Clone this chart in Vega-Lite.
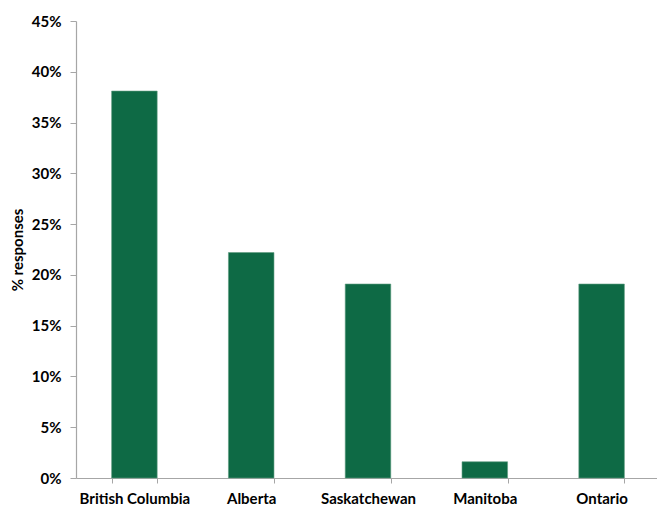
{
  "$schema": "https://vega.github.io/schema/vega-lite/v6.json",
  "width": 584,
  "height": 457,
  "autosize": {"type": "none"},
  "padding": {"left": 76, "top": 21, "right": 0, "bottom": 30},
  "background": "white",
  "config": {"view": {"stroke": null}, "font": "Lato"},
  "data": {
    "values": [
      {"province": "British Columbia", "pct": 0.381},
      {"province": "Alberta", "pct": 0.222},
      {"province": "Saskatchewan", "pct": 0.191},
      {"province": "Manitoba", "pct": 0.016},
      {"province": "Ontario", "pct": 0.191}
    ]
  },
  "mark": {"type": "bar", "color": "#0e6a45", "stroke": "#5f9c82", "strokeWidth": 0.6},
  "encoding": {
    "x": {
      "field": "province",
      "type": "nominal",
      "sort": null,
      "scale": {"paddingInner": 0.61, "paddingOuter": 0.305},
      "axis": {
        "title": null,
        "labelAngle": 0,
        "labelFont": "Lato",
        "labelFontSize": 15,
        "labelFontWeight": "bold",
        "labelColor": "#000000",
        "labelPadding": 8,
        "tickBand": "extent",
        "tickSize": 5,
        "tickColor": "#a6a6a6",
        "domainColor": "#a6a6a6",
        "domainWidth": 1.2
      }
    },
    "y": {
      "field": "pct",
      "type": "quantitative",
      "scale": {"domain": [0, 0.45], "nice": false},
      "axis": {
        "title": "% responses",
        "titleFont": "Lato",
        "titleFontSize": 15,
        "titleFontWeight": "bold",
        "titleColor": "#000000",
        "titlePadding": 6,
        "format": ".0%",
        "values": [0, 0.05, 0.1, 0.15, 0.2, 0.25, 0.3, 0.35, 0.4, 0.45],
        "grid": false,
        "labelFont": "Lato",
        "labelFontSize": 15,
        "labelFontWeight": "bold",
        "labelColor": "#000000",
        "labelPadding": 9,
        "tickSize": 6,
        "tickColor": "#a6a6a6",
        "domainColor": "#a6a6a6",
        "domainWidth": 1.2
      }
    }
  }
}
